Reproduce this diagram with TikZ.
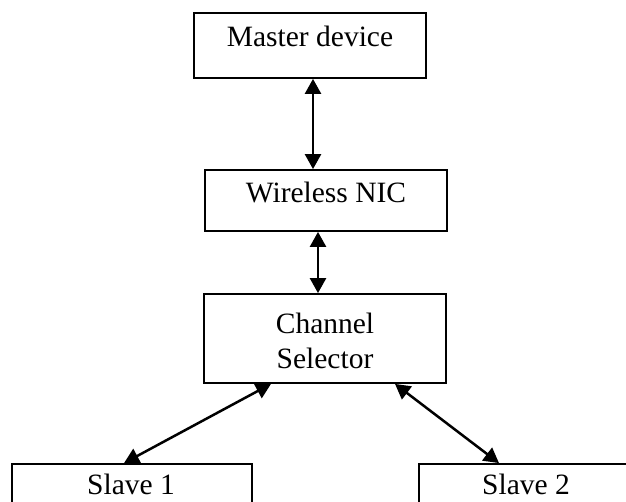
\documentclass[tikz,border=0pt]{standalone}
\usepackage{fontspec}
\setmainfont{Liberation Serif}
\usetikzlibrary{arrows.meta}
\begin{document}
\begin{tikzpicture}[x=1pt,y=-1pt,
  boxnode/.style={draw=black,line width=1.8pt,inner sep=0pt},
  txt/.style={anchor=base,inner sep=0pt,font=\fontsize{29.5}{34}\selectfont},
  link/.style={line width=2.5pt,{Triangle[length=15pt,width=16pt]}-{Triangle[length=15pt,width=16pt]}}]
\useasboundingbox (0,0) rectangle (626,502);
\clip (0,0) rectangle (626,502);
% boxes
\node[boxnode,minimum width=232pt,minimum height=65pt] (m) at (310,45.5) {};
\node[boxnode,minimum width=242pt,minimum height=61pt] (n) at (326,200.5) {};
\node[boxnode,minimum width=242pt,minimum height=89pt] (c) at (325,338.5) {};
\node[boxnode,minimum width=240pt,minimum height=80pt] (s1) at (132,504) {};
\node[boxnode,minimum width=214pt,minimum height=80pt] (s2) at (526,504) {};
% texts
\node[txt] (mt) at (310,47) {Master device};
\node[txt] (nt) at (326,203) {Wireless NIC};
\node[txt] (ct1) at (325,334) {Channel};
\node[txt] (ct2) at (325,368) {Selector};
\node[txt] (s1t) at (131,494) {Slave 1};
\node[txt] (s2t) at (526,494) {Slave 2};
% connectors
\coordinate (mb) at (m.south -| 313,0);
\coordinate (nt1) at (n.north -| 313,0);
\draw[link] (mb) -- (nt1);
\coordinate (nb) at (n.south -| 318,0);
\coordinate (ctop) at (c.north -| 318,0);
\draw[link] (nb) -- (ctop);
\coordinate (cb1) at (c.south -| 271,0);
\coordinate (s1top) at (s1.north -| 124,0);
\draw[link] (cb1) -- (s1top);
\coordinate (cb2) at (c.south -| 395,0);
\coordinate (s2top) at (s2.north -| 499,0);
\draw[link] (cb2) -- (s2top);
\end{tikzpicture}
\end{document}
